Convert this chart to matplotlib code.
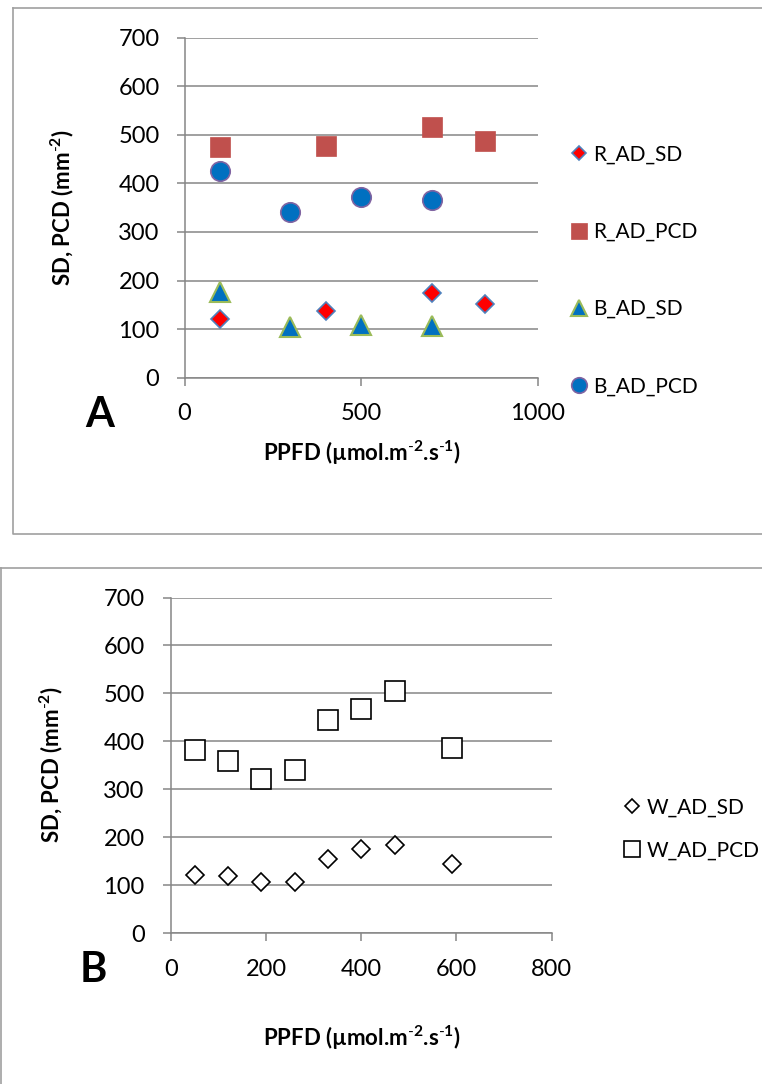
import matplotlib
matplotlib.use("Agg")
import matplotlib.pyplot as plt
from matplotlib.lines import Line2D

plt.rcParams['font.family'] = ['Lato', 'DejaVu Sans']
plt.rcParams['mathtext.fontset'] = 'custom'
plt.rcParams['mathtext.rm'] = 'Lato'
plt.rcParams['mathtext.bf'] = 'Lato:bold'

# Painel A
r_sd_x = [100, 400, 700, 850]
r_sd_y = [121, 138, 174, 151]
r_pcd_x = [100, 400, 700, 850]
r_pcd_y = [475, 477, 515, 487]
b_sd_x = [100, 300, 500, 700]
b_sd_y = [177, 104, 108, 106]
b_pcd_x = [100, 300, 500, 700]
b_pcd_y = [426, 341, 372, 365]

# Painel B
w_x = [50, 120, 190, 260, 330, 400, 470, 590]
w_sd_y = [121, 118, 107, 107, 155, 175, 184, 144]
w_pcd_y = [382, 359, 321, 341, 444, 467, 504, 386]

W, H = 762, 1084
fig = plt.figure(figsize=(W / 100, H / 100), dpi=100)

def px_axes(l, r, top, bot):
    return fig.add_axes([l / W, (H - bot) / H, (r - l) / W, (bot - top) / H])

cinza = "#868686"
xlabel = r"PPFD (µmol.m$^{\mathbf{\text{-}2}}$.s$^{\mathbf{\text{-}1}}$)"
ylabel = r"SD, PCD (mm$^{\mathbf{\text{-}2}}$)"

def estilo(ax, xmax, xstep, pad):
    ax.set_ylim(0, 700)
    ax.set_xlim(0, xmax)
    ax.set_yticks(range(0, 701, 100))
    ax.set_xticks(range(0, xmax + 1, xstep))
    ax.grid(True, axis="y", color=cinza, lw=1.1)
    ax.set_axisbelow(True)
    for s in ["top", "right"]:
        ax.spines[s].set_visible(False)
    for s in ["left", "bottom"]:
        ax.spines[s].set_color(cinza)
        ax.spines[s].set_linewidth(1.1)
    ax.tick_params(axis="both", direction="out", length=6, width=1.1,
                   color=cinza, labelsize=17, pad=pad)

# Bordas dos painéis
borda = "#a0a0a0"
fig.add_artist(Line2D([13 / W, 13 / W, 1], [1 - 8 / H, 1 - 534 / H, 1 - 534 / H],
                      color=borda, lw=1.2, transform=fig.transFigure))
fig.add_artist(Line2D([13 / W, 1], [1 - 8 / H, 1 - 8 / H],
                      color=borda, lw=1.2, transform=fig.transFigure))
fig.add_artist(Line2D([0, 1], [1 - 568 / H, 1 - 568 / H],
                      color=borda, lw=1.2, transform=fig.transFigure))
fig.add_artist(Line2D([0.5 / W, 0.5 / W], [1 - 568 / H, 0],
                      color=borda, lw=1.2, transform=fig.transFigure))

# ---- A ----
ax1 = px_axes(184.5, 537.5, 37.6, 377.7)
estilo(ax1, 1000, 500, 12)
ax1.plot(r_sd_x, r_sd_y, ls="none", marker="D", ms=9.2, mfc="#ff0000",
         mec="#4f81bd", mew=1.2, label="R_AD_SD")
ax1.plot(r_pcd_x, r_pcd_y, ls="none", marker="s", ms=14.4, mfc="#c0504d",
         mec="#c0504d", mew=0.5, label="R_AD_PCD")
ax1.plot(b_sd_x, b_sd_y, ls="none", marker="^", ms=14, mfc="#0070c0",
         mec="#9bbb59", mew=1.5, label="B_AD_SD")
ax1.plot(b_pcd_x, b_pcd_y, ls="none", marker="o", ms=14, mfc="#0070c0",
         mec="#8064a2", mew=1.2, label="B_AD_PCD")
fig.text(62 / W, 1 - 208 / H, ylabel, rotation=90, ha="center", va="center",
         fontsize=16, fontweight="bold")
fig.text(362 / W, 1 - 453 / H, xlabel, ha="center", va="center",
         fontsize=16, fontweight="bold")
fig.text(100 / W, 1 - 415 / H, "A", ha="center", va="center",
         fontsize=30, fontweight="bold")
ax1.legend(loc="center left", bbox_to_anchor=(558.5 / W, 1 - 270.5 / H),
           bbox_transform=fig.transFigure, frameon=False, fontsize=15,
           borderpad=0, handlelength=1.0, handletextpad=0.17,
           labelspacing=2.75, markerscale=0.8)

# ---- B ----
ax2 = px_axes(171, 551.5, 597.5, 933)
estilo(ax2, 800, 200, 13)
ax2.plot(w_x, w_sd_y, ls="none", marker="D", ms=9.5, mfc="white",
         mec="black", mew=1.2, label="W_AD_SD")
ax2.plot(w_x, w_pcd_y, ls="none", marker="s", ms=13.7, mfc="white",
         mec="black", mew=1.2, label="W_AD_PCD")
fig.text(51 / W, 1 - 765 / H, ylabel, rotation=90, ha="center", va="center",
         fontsize=16, fontweight="bold")
fig.text(362 / W, 1 - 1038 / H, xlabel, ha="center", va="center",
         fontsize=16, fontweight="bold")
fig.text(93 / W, 1 - 970 / H, "B", ha="center", va="center",
         fontsize=30, fontweight="bold")
ax2.legend(loc="center left", bbox_to_anchor=(611.5 / W, 1 - 829 / H),
           bbox_transform=fig.transFigure, frameon=False, fontsize=15,
           borderpad=0, handlelength=1.0, handletextpad=0.17,
           labelspacing=1.1, markerscale=0.8)

fig.savefig("out.png", dpi=100)
